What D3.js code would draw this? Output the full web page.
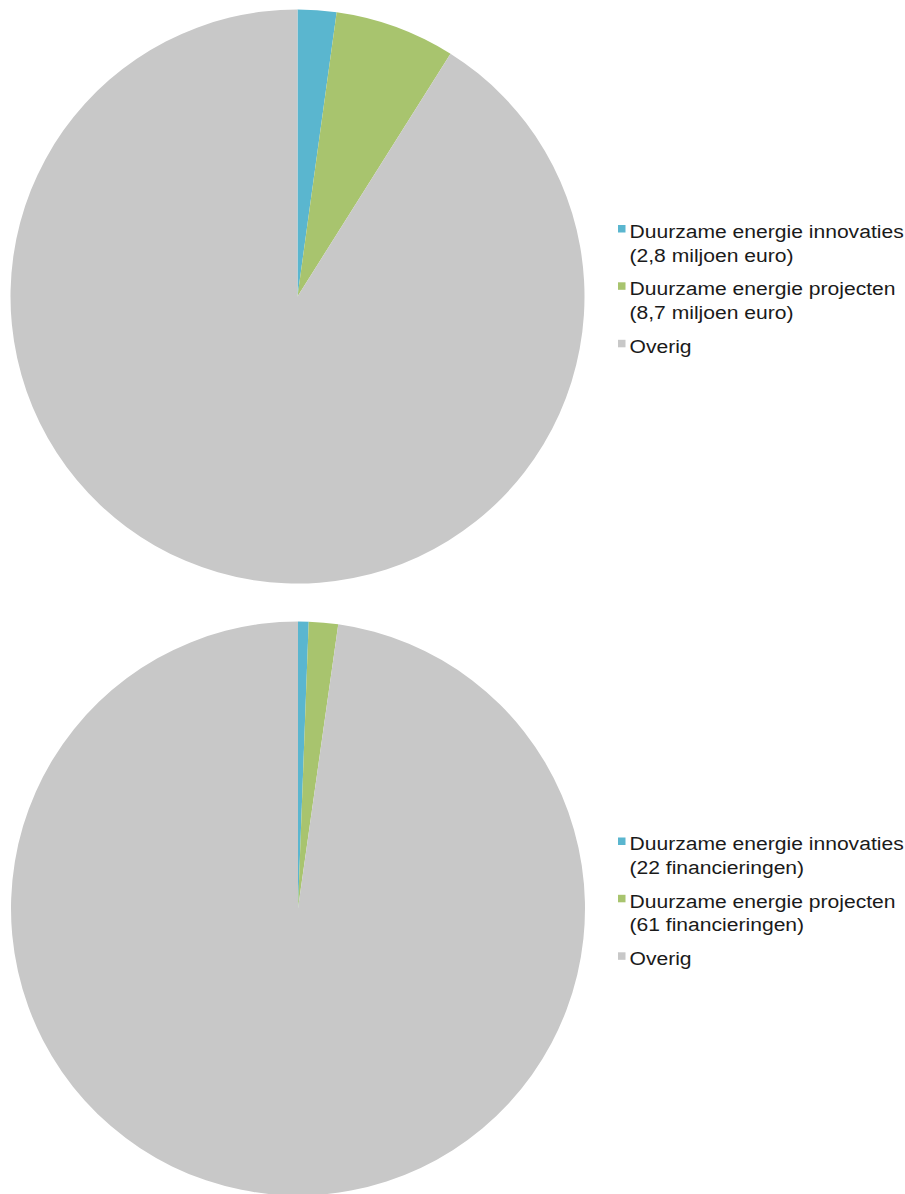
<!DOCTYPE html>
<html>
<head>
<meta charset="utf-8">
<script src="https://cdn.jsdelivr.net/npm/d3@7"></script>
<style>
html,body{margin:0;padding:0;background:#fff;}
svg{display:block;}
</style>
</head>
<body>
<svg id="chart" width="905" height="1194"></svg>
<script>
const categories = ["Duurzame energie innovaties", "Duurzame energie projecten", "Overig"];
const colors = ["#5ab6cf", "#a8c46e", "#c8c8c8"];
const amountValues = [2.8, 8.7, 117];
const amountLabels = ["(2,8 miljoen euro)", "(8,7 miljoen euro)", ""];
const countValues = [22, 61, 3620];
const countLabels = ["(22 financieringen)", "(61 financieringen)", ""];

const svg = d3.select("#chart");
const pie = d3.pie().sort(null).value(d => d);

function drawPie(values, labels, cx, cy, r, legendY) {
  const g = svg.append("g").attr("transform", `translate(${cx},${cy})`);
  const arc = d3.arc().innerRadius(0).outerRadius(r);
  g.selectAll("path").data(pie(values)).join("path")
    .attr("d", arc)
    .attr("fill", (d, i) => colors[i]);

  const lg = svg.append("g").attr("transform", `translate(618,${legendY})`);
  const offsets = [0, 57.3, 114.8];
  categories.forEach((c, i) => {
    const item = lg.append("g").attr("transform", `translate(0,${offsets[i]})`);
    item.append("rect").attr("x", 0).attr("y", 0).attr("width", 7.5).attr("height", 7.5).attr("fill", colors[i]);
    const t = item.append("text")
      .attr("transform", "translate(11.5,12.8) scale(1.11,1)")
      .attr("font-family", "Liberation Sans, Arial, sans-serif")
      .attr("font-size", 19).attr("fill", "#1a1a1a");
    t.append("tspan").attr("x", 0).attr("dy", 0).text(c);
    if (labels[i]) t.append("tspan").attr("x", 0).attr("dy", 23.8).text(labels[i]);
  });
}

drawPie(amountValues, amountLabels, 297.5, 296.5, 287, 225);
drawPie(countValues, countLabels, 298, 908.5, 287, 837.5);
</script>
</body>
</html>
